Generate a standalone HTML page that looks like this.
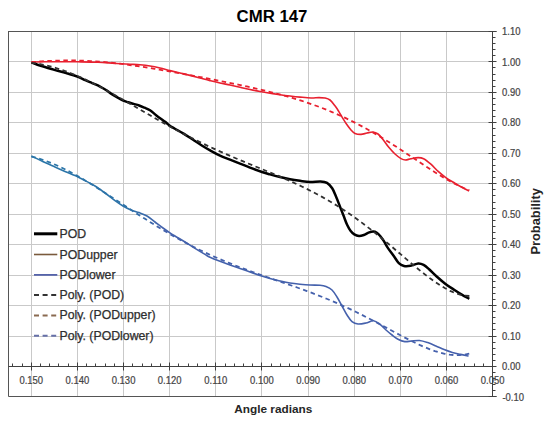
<!DOCTYPE html>
<html><head><meta charset="utf-8"><style>
html,body{margin:0;padding:0;background:#fff;}
body{width:550px;height:421px;position:relative;overflow:hidden;font-family:"Liberation Sans", sans-serif;}
</style></head><body>
<svg width="550" height="421" viewBox="0 0 550 421" style="position:absolute;left:0;top:0">
<defs><linearGradient id="bg" gradientUnits="userSpaceOnUse" x1="30" y1="0" x2="470" y2="0"><stop offset="0" stop-color="#2a76a8"/><stop offset="0.22" stop-color="#2d72a8"/><stop offset="0.3" stop-color="#4462ac"/><stop offset="1" stop-color="#4560ac"/></linearGradient></defs>
<path d="M31.50 31.50 V396.50 M77.50 31.50 V396.50 M123.50 31.50 V396.50 M169.50 31.50 V396.50 M215.50 31.50 V396.50 M261.50 31.50 V396.50 M308.50 31.50 V396.50 M354.50 31.50 V396.50 M400.50 31.50 V396.50 M446.50 31.50 V396.50 M8.50 336.50 H492.50 M8.50 305.50 H492.50 M8.50 275.50 H492.50 M8.50 244.50 H492.50 M8.50 214.50 H492.50 M8.50 183.50 H492.50 M8.50 153.50 H492.50 M8.50 122.50 H492.50 M8.50 92.50 H492.50 M8.50 61.50 H492.50" stroke="#c9c9c9" stroke-width="1" fill="none"/>
<path d="M8.50 31.50 H496.50 M8.50 31.00 V396.50 H496.50" stroke="#555" stroke-width="1" fill="none"/>
<path d="M8.50 366.50 H492.50 M12.50 363.50 V366.50 M22.50 363.50 V366.50 M31.50 362.50 V370.50 M40.50 363.50 V366.50 M49.50 363.50 V366.50 M58.50 363.50 V366.50 M68.50 363.50 V366.50 M77.50 362.50 V370.50 M86.50 363.50 V366.50 M95.50 363.50 V366.50 M105.50 363.50 V366.50 M114.50 363.50 V366.50 M123.50 362.50 V370.50 M132.50 363.50 V366.50 M142.50 363.50 V366.50 M151.50 363.50 V366.50 M160.50 363.50 V366.50 M169.50 362.50 V370.50 M178.50 363.50 V366.50 M188.50 363.50 V366.50 M197.50 363.50 V366.50 M206.50 363.50 V366.50 M215.50 362.50 V370.50 M225.50 363.50 V366.50 M234.50 363.50 V366.50 M243.50 363.50 V366.50 M252.50 363.50 V366.50 M261.50 362.50 V370.50 M271.50 363.50 V366.50 M280.50 363.50 V366.50 M289.50 363.50 V366.50 M298.50 363.50 V366.50 M308.50 362.50 V370.50 M317.50 363.50 V366.50 M326.50 363.50 V366.50 M335.50 363.50 V366.50 M344.50 363.50 V366.50 M354.50 362.50 V370.50 M363.50 363.50 V366.50 M372.50 363.50 V366.50 M381.50 363.50 V366.50 M391.50 363.50 V366.50 M400.50 362.50 V370.50 M409.50 363.50 V366.50 M418.50 363.50 V366.50 M428.50 363.50 V366.50 M437.50 363.50 V366.50 M446.50 362.50 V370.50 M455.50 363.50 V366.50 M464.50 363.50 V366.50 M474.50 363.50 V366.50 M483.50 363.50 V366.50 M492.50 362.50 V370.50" stroke="#404040" stroke-width="1" fill="none"/>
<path d="M492.50 31.50 V396.50 M488.50 31.50 H496.50 M492.50 37.50 H495.50 M492.50 43.50 H495.50 M492.50 49.50 H495.50 M492.50 55.50 H495.50 M488.50 61.50 H496.50 M492.50 67.50 H495.50 M492.50 74.50 H495.50 M492.50 80.50 H495.50 M492.50 86.50 H495.50 M488.50 92.50 H496.50 M492.50 98.50 H495.50 M492.50 104.50 H495.50 M492.50 110.50 H495.50 M492.50 116.50 H495.50 M488.50 122.50 H496.50 M492.50 128.50 H495.50 M492.50 135.50 H495.50 M492.50 141.50 H495.50 M492.50 147.50 H495.50 M488.50 153.50 H496.50 M492.50 159.50 H495.50 M492.50 165.50 H495.50 M492.50 171.50 H495.50 M492.50 177.50 H495.50 M488.50 183.50 H496.50 M492.50 189.50 H495.50 M492.50 195.50 H495.50 M492.50 202.50 H495.50 M492.50 208.50 H495.50 M488.50 214.50 H496.50 M492.50 220.50 H495.50 M492.50 226.50 H495.50 M492.50 232.50 H495.50 M492.50 238.50 H495.50 M488.50 244.50 H496.50 M492.50 250.50 H495.50 M492.50 256.50 H495.50 M492.50 262.50 H495.50 M492.50 269.50 H495.50 M488.50 275.50 H496.50 M492.50 281.50 H495.50 M492.50 287.50 H495.50 M492.50 293.50 H495.50 M492.50 299.50 H495.50 M488.50 305.50 H496.50 M492.50 311.50 H495.50 M492.50 317.50 H495.50 M492.50 323.50 H495.50 M492.50 329.50 H495.50 M488.50 336.50 H496.50 M492.50 342.50 H495.50 M492.50 348.50 H495.50 M492.50 354.50 H495.50 M492.50 360.50 H495.50 M488.50 366.50 H496.50 M492.50 372.50 H495.50 M492.50 378.50 H495.50 M492.50 384.50 H495.50 M492.50 390.50 H495.50 M488.50 396.50 H496.50" stroke="#404040" stroke-width="1" fill="none"/>
<path d="M31.40 62.00 C33.67 61.97 39.40 61.83 45.00 61.80 C50.60 61.77 59.50 61.80 65.00 61.80 C70.50 61.80 72.50 61.73 78.00 61.80 C83.50 61.87 91.83 61.93 98.00 62.20 C104.17 62.47 109.67 63.07 115.00 63.40 C120.33 63.73 125.83 63.97 130.00 64.20 C134.17 64.43 136.67 64.50 140.00 64.80 C143.33 65.10 146.67 65.47 150.00 66.00 C153.33 66.53 156.67 67.23 160.00 68.00 C163.33 68.77 166.67 69.77 170.00 70.60 C173.33 71.43 176.67 72.20 180.00 73.00 C183.33 73.80 186.67 74.57 190.00 75.40 C193.33 76.23 196.67 77.13 200.00 78.00 C203.33 78.87 206.67 79.77 210.00 80.60 C213.33 81.43 216.67 82.27 220.00 83.00 C223.33 83.73 226.67 84.30 230.00 85.00 C233.33 85.70 236.67 86.45 240.00 87.20 C243.33 87.95 246.67 88.78 250.00 89.50 C253.33 90.22 256.67 90.88 260.00 91.50 C263.33 92.12 266.67 92.67 270.00 93.20 C273.33 93.73 276.67 94.23 280.00 94.70 C283.33 95.17 286.67 95.60 290.00 96.00 C293.33 96.40 296.50 96.77 300.00 97.10 C303.50 97.43 307.83 97.92 311.00 98.00 C314.17 98.08 316.67 97.60 319.00 97.60 C321.33 97.60 323.17 97.60 325.00 98.00 C326.83 98.40 328.33 98.70 330.00 100.00 C331.67 101.30 333.50 103.83 335.00 105.80 C336.50 107.77 337.67 109.67 339.00 111.80 C340.33 113.93 341.67 116.43 343.00 118.60 C344.33 120.77 345.67 122.90 347.00 124.80 C348.33 126.70 349.67 128.57 351.00 130.00 C352.33 131.43 353.33 132.67 355.00 133.40 C356.67 134.13 359.00 134.47 361.00 134.40 C363.00 134.33 365.00 133.40 367.00 133.00 C369.00 132.60 371.17 131.83 373.00 132.00 C374.83 132.17 376.33 132.75 378.00 134.00 C379.67 135.25 381.17 137.23 383.00 139.50 C384.83 141.77 387.00 145.18 389.00 147.60 C391.00 150.02 393.00 152.17 395.00 154.00 C397.00 155.83 399.25 157.60 401.00 158.60 C402.75 159.60 403.85 159.98 405.50 160.00 C407.15 160.02 408.78 159.10 410.90 158.70 C413.02 158.30 416.08 157.60 418.20 157.60 C420.32 157.60 421.48 157.60 423.60 158.70 C425.72 159.80 428.47 162.08 430.90 164.20 C433.33 166.32 435.77 169.22 438.20 171.40 C440.63 173.58 442.78 175.37 445.50 177.30 C448.22 179.23 451.78 181.33 454.50 183.00 C457.22 184.67 459.37 185.97 461.80 187.30 C464.23 188.63 467.88 190.38 469.10 191.00" stroke="#e8202f" stroke-width="1.6" fill="none" stroke-linejoin="round"/>
<path d="M31.40 156.00 C33.67 157.10 41.07 160.77 45.00 162.60 C48.93 164.43 51.67 165.53 55.00 167.00 C58.33 168.47 61.17 169.73 65.00 171.40 C68.83 173.07 74.67 175.47 78.00 177.00 C81.33 178.53 82.17 179.10 85.00 180.60 C87.83 182.10 91.67 183.93 95.00 186.00 C98.33 188.07 101.67 190.57 105.00 193.00 C108.33 195.43 112.00 198.43 115.00 200.60 C118.00 202.77 120.33 204.43 123.00 206.00 C125.67 207.57 128.33 208.90 131.00 210.00 C133.67 211.10 136.33 211.60 139.00 212.60 C141.67 213.60 144.33 214.43 147.00 216.00 C149.67 217.57 152.33 220.00 155.00 222.00 C157.67 224.00 160.57 226.23 163.00 228.00 C165.43 229.77 167.60 231.27 169.60 232.60 C171.60 233.93 172.43 234.43 175.00 236.00 C177.57 237.57 181.67 239.93 185.00 242.00 C188.33 244.07 191.67 246.33 195.00 248.40 C198.33 250.47 202.50 252.93 205.00 254.40 C207.50 255.87 207.50 256.05 210.00 257.20 C212.50 258.35 216.67 260.00 220.00 261.30 C223.33 262.60 226.67 263.82 230.00 265.00 C233.33 266.18 236.67 267.23 240.00 268.40 C243.33 269.57 246.67 270.80 250.00 272.00 C253.33 273.20 256.67 274.50 260.00 275.60 C263.33 276.70 266.67 277.70 270.00 278.60 C273.33 279.50 276.67 280.27 280.00 281.00 C283.33 281.73 286.67 282.47 290.00 283.00 C293.33 283.53 296.67 283.87 300.00 284.20 C303.33 284.53 306.67 284.83 310.00 285.00 C313.33 285.17 317.33 284.97 320.00 285.20 C322.67 285.43 324.00 285.60 326.00 286.40 C328.00 287.20 330.17 288.23 332.00 290.00 C333.83 291.77 335.33 294.33 337.00 297.00 C338.67 299.67 340.33 303.00 342.00 306.00 C343.67 309.00 345.33 312.40 347.00 315.00 C348.67 317.60 350.17 320.10 352.00 321.60 C353.83 323.10 355.67 323.77 358.00 324.00 C360.33 324.23 363.42 323.53 366.00 323.00 C368.58 322.47 371.17 320.57 373.50 320.80 C375.83 321.03 377.92 322.87 380.00 324.40 C382.08 325.93 384.00 328.23 386.00 330.00 C388.00 331.77 390.00 333.47 392.00 335.00 C394.00 336.53 395.87 338.10 398.00 339.20 C400.13 340.30 402.57 341.30 404.80 341.60 C407.03 341.90 408.95 341.18 411.40 341.00 C413.85 340.82 416.78 340.23 419.50 340.50 C422.22 340.77 424.97 341.70 427.70 342.60 C430.43 343.50 433.17 344.75 435.90 345.90 C438.63 347.05 441.37 348.42 444.10 349.50 C446.83 350.58 449.57 351.58 452.30 352.40 C455.03 353.22 457.78 353.80 460.50 354.40 C463.22 355.00 467.25 355.73 468.60 356.00" stroke="url(#bg)" stroke-width="1.6" fill="none" stroke-linejoin="round"/>
<path d="M31.40 62.30 C32.95 62.88 37.02 64.58 40.70 65.80 C44.38 67.02 49.25 68.38 53.50 69.60 C57.75 70.82 62.22 71.93 66.20 73.10 C70.18 74.27 74.22 75.42 77.40 76.60 C80.58 77.78 83.20 79.27 85.30 80.20 C87.40 81.13 88.30 81.50 90.00 82.20 C91.70 82.90 93.68 83.60 95.50 84.40 C97.32 85.20 99.08 86.02 100.90 87.00 C102.72 87.98 104.58 89.12 106.40 90.30 C108.22 91.48 109.98 92.92 111.80 94.10 C113.62 95.28 115.48 96.37 117.30 97.40 C119.12 98.43 120.88 99.48 122.70 100.30 C124.52 101.12 126.38 101.70 128.20 102.30 C130.02 102.90 131.78 103.37 133.60 103.90 C135.42 104.43 137.28 104.87 139.10 105.50 C140.92 106.13 142.68 106.92 144.50 107.70 C146.32 108.48 148.02 108.92 150.00 110.20 C151.98 111.48 153.82 113.42 156.40 115.40 C158.98 117.38 163.32 120.42 165.50 122.10 C167.68 123.78 168.00 124.43 169.50 125.50 C171.00 126.57 172.15 127.15 174.50 128.50 C176.85 129.85 180.57 131.77 183.60 133.60 C186.63 135.43 189.67 137.52 192.70 139.50 C195.73 141.48 198.83 143.65 201.80 145.50 C204.77 147.35 207.47 148.92 210.50 150.60 C213.53 152.28 216.75 154.10 220.00 155.60 C223.25 157.10 226.67 158.27 230.00 159.60 C233.33 160.93 236.67 162.27 240.00 163.60 C243.33 164.93 246.33 166.20 250.00 167.60 C253.67 169.00 258.67 170.87 262.00 172.00 C265.33 173.13 267.00 173.57 270.00 174.40 C273.00 175.23 276.67 176.20 280.00 177.00 C283.33 177.80 286.67 178.57 290.00 179.20 C293.33 179.83 296.67 180.33 300.00 180.80 C303.33 181.27 306.58 181.90 310.00 182.00 C313.42 182.10 317.67 181.27 320.50 181.40 C323.33 181.53 325.05 181.65 327.00 182.80 C328.95 183.95 330.68 185.97 332.20 188.30 C333.72 190.63 334.80 193.75 336.10 196.80 C337.40 199.85 338.75 203.43 340.00 206.60 C341.25 209.77 342.42 212.77 343.60 215.80 C344.78 218.83 345.92 222.27 347.10 224.80 C348.28 227.33 349.50 229.40 350.70 231.00 C351.90 232.60 352.92 233.57 354.30 234.40 C355.68 235.23 357.42 235.90 359.00 236.00 C360.58 236.10 362.22 235.55 363.80 235.00 C365.38 234.45 366.92 233.28 368.50 232.70 C370.08 232.12 371.92 231.50 373.30 231.50 C374.68 231.50 375.62 231.92 376.80 232.70 C377.98 233.48 379.22 234.78 380.40 236.20 C381.58 237.62 382.72 239.33 383.90 241.20 C385.08 243.07 385.88 244.98 387.50 247.40 C389.12 249.82 391.72 253.07 393.60 255.70 C395.48 258.33 397.07 261.48 398.80 263.20 C400.53 264.92 402.03 265.57 404.00 266.00 C405.97 266.43 408.23 266.23 410.60 265.80 C412.97 265.37 416.03 263.57 418.20 263.40 C420.37 263.23 421.78 263.83 423.60 264.80 C425.42 265.77 426.97 267.30 429.10 269.20 C431.23 271.10 433.67 273.75 436.40 276.20 C439.13 278.65 442.48 281.60 445.50 283.90 C448.52 286.20 451.78 288.22 454.50 290.00 C457.22 291.78 459.33 293.13 461.80 294.60 C464.27 296.07 468.05 298.10 469.30 298.80" stroke="#000" stroke-width="2.5" fill="none" stroke-linejoin="round"/>
<path d="M31.40 62.15 L36.32 61.74 L41.24 61.39 L46.16 61.08 L51.08 60.83 L56.00 60.64 L60.92 60.50 L65.84 60.44 L70.76 60.43 L75.68 60.50 L80.60 60.62 L85.52 60.81 L90.44 61.06 L95.36 61.37 L100.28 61.74 L105.20 62.16 L110.12 62.64 L115.04 63.16 L119.96 63.73 L124.88 64.35 L129.80 65.01 L134.72 65.70 L139.64 66.42 L144.57 67.18 L149.49 67.96 L154.41 68.77 L159.33 69.60 L164.25 70.45 L169.17 71.31 L174.09 72.19 L179.01 73.09 L183.93 73.99 L188.85 74.91 L193.77 75.83 L198.69 76.77 L203.61 77.71 L208.53 78.66 L213.45 79.62 L218.37 80.59 L223.29 81.58 L228.21 82.57 L233.13 83.58 L238.05 84.61 L242.97 85.66 L247.89 86.72 L252.81 87.82 L257.73 88.94 L262.65 90.09 L267.57 91.28 L272.49 92.51 L277.41 93.78 L282.33 95.10 L287.25 96.47 L292.17 97.90 L297.09 99.39 L302.01 100.94 L306.93 102.56 L311.85 104.25 L316.77 106.02 L321.69 107.87 L326.61 109.81 L331.53 111.83 L336.45 113.94 L341.37 116.14 L346.29 118.43 L351.21 120.82 L356.13 123.30 L361.06 125.88 L365.98 128.54 L370.90 131.30 L375.82 134.15 L380.74 137.07 L385.66 140.08 L390.58 143.15 L395.50 146.29 L400.42 149.48 L405.34 152.71 L410.26 155.97 L415.18 159.25 L420.10 162.53 L425.02 165.78 L429.94 169.00 L434.86 172.16 L439.78 175.23 L444.70 178.19 L449.62 181.01 L454.54 183.66 L459.46 186.10 L464.38 188.29 L469.30 190.19" stroke="#e8202f" stroke-width="1.8" fill="none" stroke-dasharray="4.5 3.5"/>
<path d="M31.40 156.51 L36.32 157.79 L41.24 159.30 L46.16 161.02 L51.08 162.94 L56.00 165.03 L60.92 167.30 L65.84 169.72 L70.76 172.28 L75.68 174.97 L80.60 177.76 L85.52 180.66 L90.44 183.64 L95.36 186.69 L100.28 189.81 L105.20 192.97 L110.12 196.16 L115.04 199.38 L119.96 202.61 L124.88 205.84 L129.80 209.06 L134.72 212.27 L139.64 215.45 L144.57 218.60 L149.49 221.70 L154.41 224.76 L159.33 227.77 L164.25 230.71 L169.17 233.60 L174.09 236.42 L179.01 239.17 L183.93 241.84 L188.85 244.44 L193.77 246.97 L198.69 249.43 L203.61 251.80 L208.53 254.11 L213.45 256.34 L218.37 258.51 L223.29 260.61 L228.21 262.64 L233.13 264.62 L238.05 266.54 L242.97 268.41 L247.89 270.24 L252.81 272.03 L257.73 273.79 L262.65 275.52 L267.57 277.23 L272.49 278.93 L277.41 280.63 L282.33 282.33 L287.25 284.03 L292.17 285.75 L297.09 287.49 L302.01 289.27 L306.93 291.07 L311.85 292.92 L316.77 294.81 L321.69 296.75 L326.61 298.75 L331.53 300.81 L336.45 302.93 L341.37 305.11 L346.29 307.36 L351.21 309.67 L356.13 312.04 L361.06 314.48 L365.98 316.97 L370.90 319.51 L375.82 322.09 L380.74 324.71 L385.66 327.35 L390.58 330.00 L395.50 332.65 L400.42 335.28 L405.34 337.86 L410.26 340.38 L415.18 342.81 L420.10 345.13 L425.02 347.30 L429.94 349.29 L434.86 351.06 L439.78 352.57 L444.70 353.78 L449.62 354.65 L454.54 355.11 L459.46 355.12 L464.38 354.61 L469.30 353.51" stroke="url(#bg)" stroke-width="1.8" fill="none" stroke-dasharray="4.5 3.5"/>
<path d="M31.40 62.82 L36.33 63.48 L41.25 64.34 L46.18 65.39 L51.10 66.62 L56.03 68.03 L60.96 69.60 L65.88 71.34 L70.81 73.22 L75.73 75.25 L80.66 77.40 L85.58 79.67 L90.51 82.05 L95.44 84.53 L100.36 87.09 L105.29 89.72 L110.21 92.42 L115.14 95.17 L120.07 97.97 L124.99 100.79 L129.92 103.64 L134.84 106.50 L139.77 109.36 L144.69 112.22 L149.62 115.07 L154.55 117.90 L159.47 120.70 L164.40 123.46 L169.32 126.19 L174.25 128.88 L179.18 131.53 L184.10 134.12 L189.03 136.66 L193.95 139.16 L198.88 141.59 L203.80 143.98 L208.73 146.31 L213.66 148.60 L218.58 150.83 L223.51 153.02 L228.43 155.17 L233.36 157.29 L238.29 159.37 L243.21 161.43 L248.14 163.46 L253.06 165.49 L257.99 167.51 L262.91 169.52 L267.84 171.55 L272.77 173.60 L277.69 175.67 L282.62 177.78 L287.54 179.93 L292.47 182.14 L297.40 184.40 L302.32 186.73 L307.25 189.14 L312.17 191.63 L317.10 194.21 L322.02 196.90 L326.95 199.68 L331.88 202.58 L336.80 205.58 L341.73 208.71 L346.65 211.95 L351.58 215.31 L356.51 218.79 L361.43 222.39 L366.36 226.09 L371.28 229.91 L376.21 233.82 L381.13 237.82 L386.06 241.90 L390.99 246.03 L395.91 250.21 L400.84 254.42 L405.76 258.62 L410.69 262.80 L415.62 266.92 L420.54 270.95 L425.47 274.85 L430.39 278.59 L435.32 282.11 L440.24 285.37 L445.17 288.31 L450.10 290.88 L455.02 293.00 L459.95 294.62 L464.87 295.65 L469.80 296.02" stroke="#303030" stroke-width="1.8" fill="none" stroke-dasharray="4.5 3.5"/>
<path d="M34.0 233.8 H57.3" stroke="#000" stroke-width="3"/>
<path d="M34.0 254.5 H57.3" stroke="#7a5a3c" stroke-width="1.6"/>
<path d="M34.0 274.9 H57.3" stroke="#5563aa" stroke-width="1.8"/>
<path d="M34.0 295.1 H57.3" stroke="#333" stroke-width="2" stroke-dasharray="5 3.6"/>
<path d="M34.0 315.4 H57.3" stroke="#8a6a50" stroke-width="2" stroke-dasharray="5 3.6"/>
<path d="M34.0 335.8 H57.3" stroke="#6670a8" stroke-width="2" stroke-dasharray="5 3.6"/>
<text x="59.5" y="237.8" font-family='"Liberation Sans", sans-serif' font-size="12.3" fill="#2e2e2e" stroke="#2e2e2e" stroke-width="0.25">POD</text>
<text x="59.5" y="258.5" font-family='"Liberation Sans", sans-serif' font-size="12.3" fill="#2e2e2e" stroke="#2e2e2e" stroke-width="0.25">PODupper</text>
<text x="59.5" y="278.9" font-family='"Liberation Sans", sans-serif' font-size="12.3" fill="#2e2e2e" stroke="#2e2e2e" stroke-width="0.25">PODlower</text>
<text x="59.5" y="299.1" font-family='"Liberation Sans", sans-serif' font-size="12.3" fill="#2e2e2e" stroke="#2e2e2e" stroke-width="0.25">Poly. (POD)</text>
<text x="59.5" y="319.4" font-family='"Liberation Sans", sans-serif' font-size="12.3" fill="#2e2e2e" stroke="#2e2e2e" stroke-width="0.25">Poly. (PODupper)</text>
<text x="59.5" y="339.8" font-family='"Liberation Sans", sans-serif' font-size="12.3" fill="#2e2e2e" stroke="#2e2e2e" stroke-width="0.25">Poly. (PODlower)</text>
<text transform="translate(31.30 383.6) scale(0.92 1)" text-anchor="middle" font-family='"Liberation Sans", sans-serif' font-size="10.3" fill="#444" stroke="#444" stroke-width="0.22">0.150</text>
<text transform="translate(77.43 383.6) scale(0.92 1)" text-anchor="middle" font-family='"Liberation Sans", sans-serif' font-size="10.3" fill="#444" stroke="#444" stroke-width="0.22">0.140</text>
<text transform="translate(123.56 383.6) scale(0.92 1)" text-anchor="middle" font-family='"Liberation Sans", sans-serif' font-size="10.3" fill="#444" stroke="#444" stroke-width="0.22">0.130</text>
<text transform="translate(169.69 383.6) scale(0.92 1)" text-anchor="middle" font-family='"Liberation Sans", sans-serif' font-size="10.3" fill="#444" stroke="#444" stroke-width="0.22">0.120</text>
<text transform="translate(215.82 383.6) scale(0.92 1)" text-anchor="middle" font-family='"Liberation Sans", sans-serif' font-size="10.3" fill="#444" stroke="#444" stroke-width="0.22">0.110</text>
<text transform="translate(261.95 383.6) scale(0.92 1)" text-anchor="middle" font-family='"Liberation Sans", sans-serif' font-size="10.3" fill="#444" stroke="#444" stroke-width="0.22">0.100</text>
<text transform="translate(308.08 383.6) scale(0.92 1)" text-anchor="middle" font-family='"Liberation Sans", sans-serif' font-size="10.3" fill="#444" stroke="#444" stroke-width="0.22">0.090</text>
<text transform="translate(354.21 383.6) scale(0.92 1)" text-anchor="middle" font-family='"Liberation Sans", sans-serif' font-size="10.3" fill="#444" stroke="#444" stroke-width="0.22">0.080</text>
<text transform="translate(400.34 383.6) scale(0.92 1)" text-anchor="middle" font-family='"Liberation Sans", sans-serif' font-size="10.3" fill="#444" stroke="#444" stroke-width="0.22">0.070</text>
<text transform="translate(446.47 383.6) scale(0.92 1)" text-anchor="middle" font-family='"Liberation Sans", sans-serif' font-size="10.3" fill="#444" stroke="#444" stroke-width="0.22">0.060</text>
<text transform="translate(492.60 383.6) scale(0.92 1)" text-anchor="middle" font-family='"Liberation Sans", sans-serif' font-size="10.3" fill="#444" stroke="#444" stroke-width="0.22">0.050</text>
<text transform="translate(502.00 35.04) scale(0.92 1)" font-family='"Liberation Sans", sans-serif' font-size="10.3" fill="#444" stroke="#444" stroke-width="0.22">1.10</text>
<text transform="translate(502.00 65.50) scale(0.92 1)" font-family='"Liberation Sans", sans-serif' font-size="10.3" fill="#444" stroke="#444" stroke-width="0.22">1.00</text>
<text transform="translate(502.00 95.96) scale(0.92 1)" font-family='"Liberation Sans", sans-serif' font-size="10.3" fill="#444" stroke="#444" stroke-width="0.22">0.90</text>
<text transform="translate(502.00 126.42) scale(0.92 1)" font-family='"Liberation Sans", sans-serif' font-size="10.3" fill="#444" stroke="#444" stroke-width="0.22">0.80</text>
<text transform="translate(502.00 156.88) scale(0.92 1)" font-family='"Liberation Sans", sans-serif' font-size="10.3" fill="#444" stroke="#444" stroke-width="0.22">0.70</text>
<text transform="translate(502.00 187.34) scale(0.92 1)" font-family='"Liberation Sans", sans-serif' font-size="10.3" fill="#444" stroke="#444" stroke-width="0.22">0.60</text>
<text transform="translate(502.00 217.80) scale(0.92 1)" font-family='"Liberation Sans", sans-serif' font-size="10.3" fill="#444" stroke="#444" stroke-width="0.22">0.50</text>
<text transform="translate(502.00 248.26) scale(0.92 1)" font-family='"Liberation Sans", sans-serif' font-size="10.3" fill="#444" stroke="#444" stroke-width="0.22">0.40</text>
<text transform="translate(502.00 278.72) scale(0.92 1)" font-family='"Liberation Sans", sans-serif' font-size="10.3" fill="#444" stroke="#444" stroke-width="0.22">0.30</text>
<text transform="translate(502.00 309.18) scale(0.92 1)" font-family='"Liberation Sans", sans-serif' font-size="10.3" fill="#444" stroke="#444" stroke-width="0.22">0.20</text>
<text transform="translate(502.00 339.64) scale(0.92 1)" font-family='"Liberation Sans", sans-serif' font-size="10.3" fill="#444" stroke="#444" stroke-width="0.22">0.10</text>
<text transform="translate(502.00 370.10) scale(0.92 1)" font-family='"Liberation Sans", sans-serif' font-size="10.3" fill="#444" stroke="#444" stroke-width="0.22">0.00</text>
<text transform="translate(502.40 400.56) scale(0.92 1)" font-family='"Liberation Sans", sans-serif' font-size="10.3" fill="#444" stroke="#444" stroke-width="0.22">-0.10</text>
<text x="272" y="21.6" text-anchor="middle" font-family='"Liberation Sans", sans-serif' font-size="16.8" font-weight="bold" fill="#000">CMR 147</text>
<text x="273.3" y="413.2" text-anchor="middle" font-family='"Liberation Sans", sans-serif' font-size="11.8" font-weight="bold" fill="#262626">Angle radians</text>
<text y="0" transform="translate(540.3 221.4) rotate(-90)" textLength="66.4" lengthAdjust="spacingAndGlyphs" x="-33.2" font-family='"Liberation Sans", sans-serif' font-size="12.4" font-weight="bold" fill="#262626">Probability</text>
</svg>
</body></html>
